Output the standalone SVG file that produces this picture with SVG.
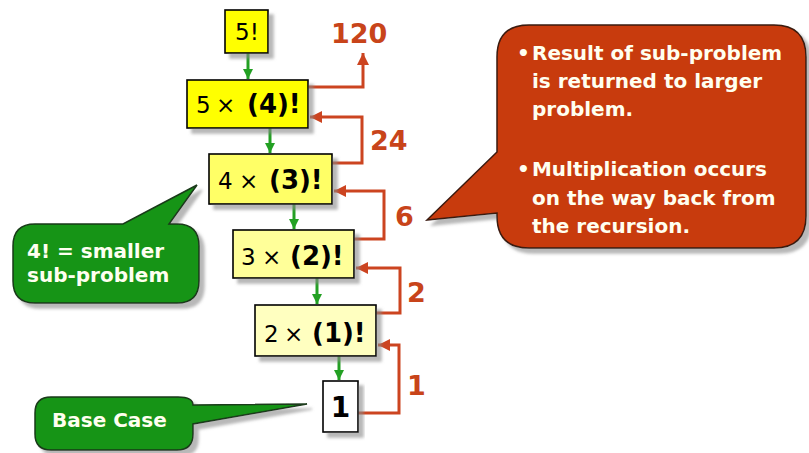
<svg xmlns="http://www.w3.org/2000/svg" width="809" height="453" viewBox="0 0 809 453">
<defs>
<style>
.box{stroke:#000;stroke-width:1.6}
.reg{font-family:"DejaVu Sans",sans-serif;font-size:23px;fill:#000}
.bold{font-family:"DejaVu Sans",sans-serif;font-weight:bold;font-size:26px;fill:#000}
.num{font-family:"DejaVu Sans",sans-serif;font-weight:bold;font-size:27px;fill:#c8441a}
.ct{font-family:"DejaVu Sans",sans-serif;font-weight:bold;font-size:20px;fill:#fffff0}
.g{stroke:#23a023;stroke-width:3;fill:none}
.r{stroke:#cc4420;stroke-width:3;fill:none}
.green{fill:#149414;stroke:#1a3a1a;stroke-width:1.5}
.red{fill:#c83a0a;stroke:#3a1a10;stroke-width:1.5}
</style>
<filter id="sh" x="-20%" y="-20%" width="140%" height="140%">
<feDropShadow dx="5" dy="5" stdDeviation="1.5" flood-color="#888" flood-opacity="0.6"/>
</filter>
<marker id="ga" markerUnits="userSpaceOnUse" markerWidth="12" markerHeight="10" refX="10" refY="5" orient="auto">
<path d="M0,0 L10,5 L0,10 Z" fill="#23a023"/>
</marker>
<marker id="ra" markerUnits="userSpaceOnUse" markerWidth="14" markerHeight="12" refX="12" refY="6" orient="auto">
<path d="M0,0 L12,6 L0,12 Z" fill="#cc4420"/>
</marker>
</defs>
<rect width="809" height="453" fill="#fff"/>

<g id="connectors">
<line class="g" x1="248" y1="53" x2="248" y2="79" marker-end="url(#ga)"/>
<line class="g" x1="270" y1="128" x2="270" y2="153" marker-end="url(#ga)"/>
<line class="g" x1="294" y1="204" x2="294" y2="229" marker-end="url(#ga)"/>
<line class="g" x1="317" y1="278" x2="317" y2="304" marker-end="url(#ga)"/>
<line class="g" x1="339" y1="356" x2="339" y2="380" marker-end="url(#ga)"/>
<path class="r" d="M308,87 H363 V53" marker-end="url(#ra)"/>
<path class="r" d="M332,163 H362 V117 H310" marker-end="url(#ra)"/>
<path class="r" d="M354,239 H384 V191 H334" marker-end="url(#ra)"/>
<path class="r" d="M376,313 H400 V268 H356" marker-end="url(#ra)"/>
<path class="r" d="M358,413 H399 V345 H378" marker-end="url(#ra)"/>
</g>

<g id="n5">
<rect class="box" x="225" y="10" width="43" height="43" fill="#ffff00" filter="url(#sh)"/>
<text class="reg" x="247" y="40" text-anchor="middle">5!</text>
</g>
<g id="n4">
<rect class="box" x="187" y="80" width="121" height="48" fill="#ffff00" filter="url(#sh)"/>
<text y="113"><tspan class="reg" x="196">5</tspan><tspan class="reg" x="216">×</tspan><tspan class="bold" x="247">(4)!</tspan></text>
</g>
<g id="n3">
<rect class="box" x="209" y="154" width="123" height="50" fill="#ffff66" filter="url(#sh)"/>
<text y="189"><tspan class="reg" x="218">4</tspan><tspan class="reg" x="239">×</tspan><tspan class="bold" x="269">(3)!</tspan></text>
</g>
<g id="n2">
<rect class="box" x="233" y="230" width="121" height="48" fill="#ffff99" filter="url(#sh)"/>
<text y="265"><tspan class="reg" x="241">3</tspan><tspan class="reg" x="262">×</tspan><tspan class="bold" x="290">(2)!</tspan></text>
</g>
<g id="n1">
<rect class="box" x="255" y="305" width="121" height="51" fill="#ffffc0" filter="url(#sh)"/>
<text y="342"><tspan class="reg" x="264">2</tspan><tspan class="reg" x="284">×</tspan><tspan class="bold" x="312">(1)!</tspan></text>
</g>
<g id="base">
<rect class="box" x="323" y="381" width="35" height="51" fill="#ffffff" filter="url(#sh)"/>
<text class="bold" x="340.5" y="417" text-anchor="middle" style="font-size:28px">1</text>
</g>

<g id="labels">
<text class="num" x="331" y="43">120</text>
<text class="num" x="370" y="150">24</text>
<text class="num" x="395" y="226">6</text>
<text class="num" x="407" y="302">2</text>
<text class="num" x="407" y="395">1</text>
</g>

<g id="callout-sub">
<path class="green" filter="url(#sh)" d="M35,224 H123 L197,185 L169,224 H177 Q199,224 199,246 V281 Q199,303 177,303 H35 Q13,303 13,281 V246 Q13,224 35,224 Z"/>
<text class="ct" x="27" y="258">4! = smaller</text>
<text class="ct" x="27" y="282">sub-problem</text>
</g>

<g id="callout-base">
<path class="green" filter="url(#sh)" d="M51,397 H178 Q193,397 193,405 L307,404 L193,424 V434 Q193,450 177,450 H51 Q35,450 35,434 V413 Q35,397 51,397 Z"/>
<text class="ct" x="52" y="427">Base Case</text>
</g>

<g id="callout-result">
<path class="red" filter="url(#sh)" d="M529,25 H774 Q806,25 806,57 V216 Q806,248 774,248 H529 Q497,248 497,216 V213 L427,220 L497,152 V57 Q497,25 529,25 Z"/>
<text class="ct" y="60"><tspan x="517">•</tspan><tspan x="532">Result of sub-problem</tspan></text>
<text class="ct" x="532" y="88">is returned to larger</text>
<text class="ct" x="532" y="116">problem.</text>
<text class="ct" y="176"><tspan x="517">•</tspan><tspan x="532" textLength="235" lengthAdjust="spacingAndGlyphs">Multiplication occurs</tspan></text>
<text class="ct" x="532" y="205">on the way back from</text>
<text class="ct" x="532" y="233">the recursion.</text>
</g>
</svg>
